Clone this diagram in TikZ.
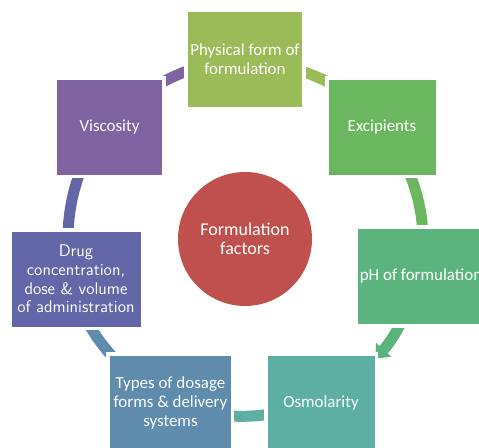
\documentclass[tikz,border=0pt]{standalone}
\usepackage{fontspec}
\setmainfont{Carlito}
\usetikzlibrary{arrows.meta}
\definecolor{physcol}{HTML}{9BBB59}
\definecolor{excicol}{HTML}{6AB75F}
\definecolor{phcol}{HTML}{5BB47E}
\definecolor{osmocol}{HTML}{5DAFA3}
\definecolor{typecol}{HTML}{5F8BAD}
\definecolor{drugcol}{HTML}{6366A7}
\definecolor{visccol}{HTML}{8064A2}
\definecolor{corecol}{HTML}{C0504D}
\tikzstyle{factor} = [rectangle, minimum height=72pt, inner sep=2pt, align=center, text=white, draw=white, line width=0.6pt, preaction={draw=white, line width=5pt}, font=\fontsize{12.7}{13.9}\selectfont]
\tikzstyle{hub} = [circle, minimum size=100.5pt, fill=corecol, text=white, align=center, font=\fontsize{13.5}{14.5}\selectfont]
\tikzstyle{cycarrow} = [line width=8.25pt, -{Triangle[width=15pt,length=9pt]}]

\begin{document}
\begin{tikzpicture}[x=0.75pt, y=0.75pt, node distance=135pt]
\useasboundingbox (0,0) rectangle (479,448);
\clip (0,0) rectangle (479,448);

\node (core) [hub] at (245,209) {Formulation\\factors};

% ring of arrows, drawn first so the boxes sit on top
\draw [cycarrow, draw=physcol] ([shift={(80:177)}]core.center) arc[start angle=80, end angle=50, radius=177];
\draw [cycarrow, draw=excicol] ([shift={(30:177)}]core.center) arc[start angle=30, end angle=-5, radius=177];
\draw [cycarrow, draw=phcol] ([shift={(-20:177)}]core.center) arc[start angle=-20, end angle=-42.5, radius=177];
\draw [cycarrow, draw=osmocol] ([shift={(-80:177)}]core.center) arc[start angle=-80, end angle=-100, radius=177];
\draw [cycarrow, draw=typecol] ([shift={(-125:177)}]core.center) arc[start angle=-125, end angle=-162, radius=177];
\draw [cycarrow, draw=drugcol] ([shift={(-175:177)}]core.center) arc[start angle=-175, end angle=-215, radius=177];
\draw [cycarrow, draw=visccol] ([shift={(130:177)}]core.center) arc[start angle=130, end angle=95, radius=177];

\node (phys) [factor, fill=physcol, minimum width=84pt, above of=core] {Physical form of\\formulation};
\node (exci) [factor, fill=excicol, minimum width=81pt, right of=core, xshift=-32.25pt, yshift=84pt] {Excipients};
\node (ph) [factor, fill=phcol, minimum width=96pt, right of=core, xshift=-3pt, yshift=-28.1pt] {pH of formulation};
\node (osmo) [factor, fill=osmocol, minimum width=81pt, below of=core, xshift=57pt, yshift=12pt] {Osmolarity};
\node (types) [factor, fill=typecol, minimum width=91pt, below of=core, xshift=-55.9pt, yshift=12pt] {Types of dosage\\forms \& delivery\\systems};
\node (drug) [factor, fill=drugcol, minimum width=97.5pt, left of=core, xshift=8.25pt, yshift=-30pt, font=\sffamily\fontsize{12.7}{13.9}\selectfont] {Drug\\concentration,\\dose \& volume\\of administration};
\node (visc) [factor, fill=visccol, minimum width=80pt, left of=core, xshift=33.4pt, yshift=84pt] {Viscosity};
\end{tikzpicture}
\end{document}
